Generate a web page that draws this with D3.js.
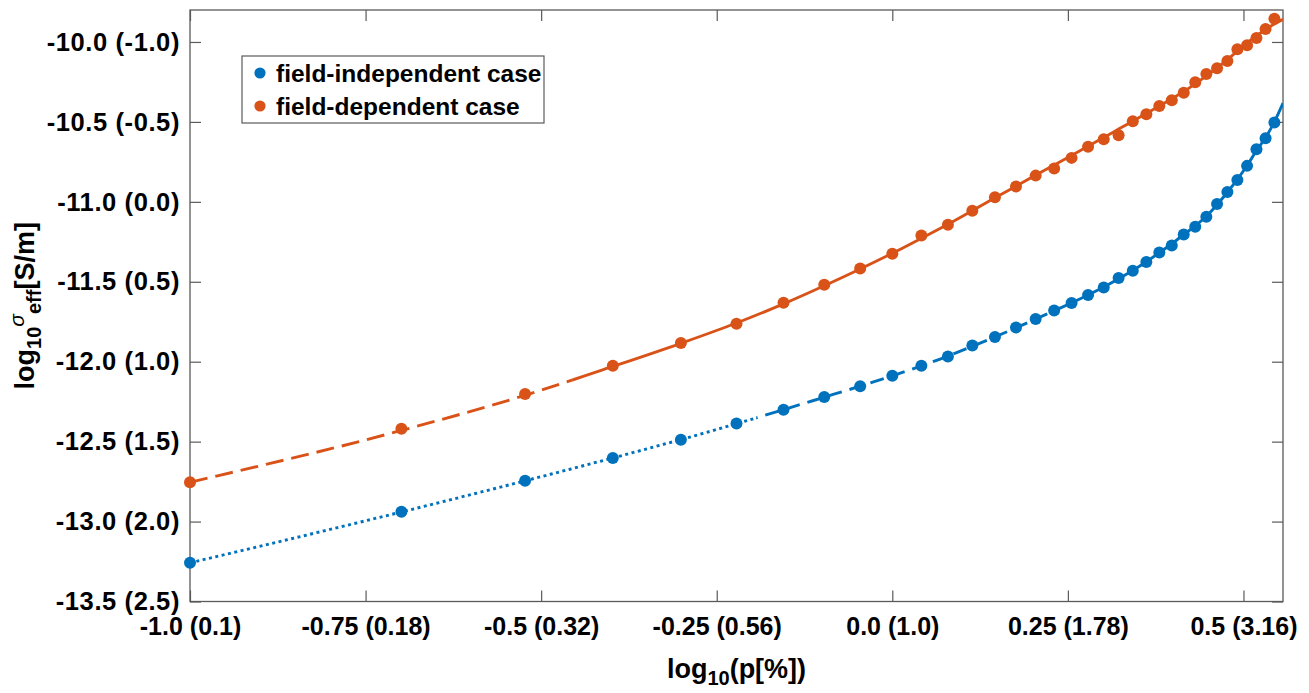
<!DOCTYPE html>
<html>
<head>
<meta charset="utf-8">
<script src="https://cdn.jsdelivr.net/npm/d3@7"></script>
<style>
  html, body { margin: 0; padding: 0; background: #fff; }
  svg { display: block; font-family: "Liberation Sans", Arial, sans-serif; font-weight: bold; }
</style>
</head>
<body>
<svg id="chart" width="1309" height="693"></svg>
<script>
// Pore fraction p [%] at which the conductivity was evaluated
const pPoints = [0.1, 0.2, 0.3, 0.4, 0.5, 0.6, 0.7, 0.8, 0.9, 1.0,
                 1.1, 1.2, 1.3, 1.4, 1.5, 1.6, 1.7, 1.8, 1.9, 2.0,
                 2.1, 2.2, 2.3, 2.4, 2.5, 2.6, 2.7, 2.8, 2.9, 3.0,
                 3.1, 3.2, 3.3, 3.4, 3.5];

// log10 of effective conductivity [S/m], field-independent case
const sigmaIndependent = [-13.258, -12.939, -12.744, -12.602, -12.488, -12.386, -12.300, -12.221, -12.154, -12.088,
                          -12.025, -11.967, -11.898, -11.846, -11.786, -11.733, -11.679, -11.633, -11.583, -11.536,
                          -11.477, -11.431, -11.377, -11.317, -11.273, -11.204, -11.156, -11.094, -11.014, -10.939,
                          -10.863, -10.775, -10.671, -10.602, -10.504];

// log10 of effective conductivity [S/m], field-dependent case
const sigmaDependent = [-12.754, -12.419, -12.202, -12.025, -11.883, -11.763, -11.631, -11.519, -11.417, -11.325,
                        -11.211, -11.144, -11.056, -10.971, -10.904, -10.836, -10.792, -10.725, -10.656, -10.608,
                        -10.583, -10.496, -10.452, -10.400, -10.364, -10.317, -10.252, -10.200, -10.164, -10.119,
                        -10.046, -10.021, -9.975, -9.919, -9.854];

// Fitted curves, sampled up to the right edge of the axes
const pFit = [0.1, 0.2, 0.3, 0.4, 0.5, 0.6, 0.7, 0.8, 0.9, 1.0,
              1.1, 1.2, 1.3, 1.4, 1.5, 1.6, 1.7, 1.8, 1.9, 2.0,
              2.1, 2.2, 2.3, 2.4, 2.5, 2.6, 2.7, 2.8, 2.9, 3.0,
              3.1, 3.2, 3.3, 3.4, 3.5, 3.6];
const fitIndependent = [-13.258, -12.940, -12.745, -12.602, -12.487, -12.388, -12.300, -12.222, -12.153, -12.088,
                        -12.026, -11.965, -11.903, -11.845, -11.788, -11.733, -11.681, -11.632, -11.583, -11.533,
                        -11.481, -11.429, -11.375, -11.318, -11.262, -11.205, -11.150, -11.090, -11.018, -10.940,
                        -10.860, -10.773, -10.680, -10.598, -10.500, -10.383];
const fitDependent = [-12.754, -12.430, -12.210, -12.030, -11.885, -11.758, -11.638, -11.525, -11.420, -11.322,
                      -11.228, -11.140, -11.055, -10.975, -10.902, -10.833, -10.770, -10.710, -10.652, -10.598,
                      -10.545, -10.495, -10.447, -10.400, -10.355, -10.310, -10.262, -10.212, -10.162, -10.110,
                      -10.057, -10.005, -9.962, -9.922, -9.888, -9.858];

// Regime boundaries (in p [%]) where the line style of each fit changes
const dependentBreaks = [0.35];          // dashed | solid
const independentBreaks = [0.64, 1.8];   // dotted | dashed | solid

// Axis ticks and their labels
const xTicks = [-1.0, -0.75, -0.5, -0.25, 0.0, 0.25, 0.5];
const xTickLabels = ["-1.0 (0.1)", "-0.75 (0.18)", "-0.5 (0.32)", "-0.25 (0.56)", "0.0 (1.0)", "0.25 (1.78)", "0.5 (3.16)"];
const yTicks = [-13.5, -13.0, -12.5, -12.0, -11.5, -11.0, -10.5, -10.0];
const yTickLabels = ["-13.5 (2.5)", "-13.0 (2.0)", "-12.5 (1.5)", "-12.0 (1.0)", "-11.5 (0.5)", "-11.0 (0.0)", "-10.5 (-0.5)", "-10.0 (-1.0)"];

const seriesNames = ["field-independent case", "field-dependent case"];
const colors = ["#0072BD", "#D95319"];

// ---- layout ----
const svg = d3.select("#chart");
const plot = { left: 190, right: 1283, top: 10, bottom: 601.5 };

const x = d3.scaleLinear().domain([-1, Math.log10(3.6)]).range([plot.left, plot.right]);
const y = d3.scaleLinear().domain([-13.5, -9.8]).range([plot.bottom, plot.top]);

const axisColor = "#5a5a5a";
const textColor = "#000";
const tickLen = 11;

// clip regions: whole plot, plus one per line-style regime
const defs = svg.append("defs");
defs.append("clipPath").attr("id", "plot-clip")
  .append("rect")
  .attr("x", plot.left).attr("y", plot.top)
  .attr("width", plot.right - plot.left).attr("height", plot.bottom - plot.top);

function regimeClips(prefix, breaks) {
  const edges = [x.domain()[0]].concat(breaks.map(b => Math.log10(b)), [x.domain()[1]]);
  const ids = [];
  for (let i = 0; i < edges.length - 1; i++) {
    const id = prefix + i;
    defs.append("clipPath").attr("id", id)
      .append("rect")
      .attr("x", x(edges[i])).attr("y", plot.top)
      .attr("width", x(edges[i + 1]) - x(edges[i]))
      .attr("height", plot.bottom - plot.top);
    ids.push(id);
  }
  return ids;
}

// ---- axes ----
const xAxis = d3.axisBottom(x).tickValues(xTicks)
  .tickFormat((d, i) => xTickLabels[i])
  .tickSizeInner(-tickLen).tickSizeOuter(0).tickPadding(16);
const yAxis = d3.axisLeft(y).tickValues(yTicks)
  .tickFormat((d, i) => yTickLabels[i])
  .tickSizeInner(-tickLen).tickSizeOuter(0).tickPadding(10);
const xAxisTop = d3.axisTop(x).tickValues(xTicks).tickFormat("")
  .tickSizeInner(-tickLen).tickSizeOuter(0);
const yAxisRight = d3.axisRight(y).tickValues(yTicks).tickFormat("")
  .tickSizeInner(-tickLen).tickSizeOuter(0);

function styleAxis(g, size) {
  g.select(".domain").remove();
  g.selectAll(".tick line").attr("stroke", axisColor).attr("stroke-width", 1.2);
  g.selectAll(".tick text")
    .attr("fill", textColor)
    .style("font-family", "'Liberation Sans', Arial, sans-serif")
    .style("font-weight", "bold")
    .style("font-size", size + "px");
}

svg.append("g").attr("transform", `translate(0,${plot.bottom})`).call(xAxis).call(styleAxis, 25);
svg.append("g").attr("transform", `translate(${plot.left},0)`).call(yAxis).call(styleAxis, 25.5)
  .selectAll(".tick text").style("letter-spacing", "0.6px");
svg.append("g").attr("transform", `translate(0,${plot.top})`).call(xAxisTop).call(styleAxis, 25);
svg.append("g").attr("transform", `translate(${plot.right},0)`).call(yAxisRight).call(styleAxis, 25);

// axes box
svg.append("rect")
  .attr("x", plot.left).attr("y", plot.top)
  .attr("width", plot.right - plot.left).attr("height", plot.bottom - plot.top)
  .attr("fill", "none").attr("stroke", axisColor).attr("stroke-width", 1.3);

// ---- fitted lines ----
const line = d3.line()
  .x(d => x(Math.log10(d[0])))
  .y(d => y(d[1]))
  .curve(d3.curveMonotoneX);

const linesG = svg.append("g").attr("clip-path", "url(#plot-clip)");

function drawFit(values, color, clipIds, dashes) {
  const pts = pFit.map((p, i) => [p, values[i]]);
  clipIds.forEach((id, i) => {
    linesG.append("g").attr("clip-path", `url(#${id})`)
      .append("path")
      .attr("d", line(pts))
      .attr("fill", "none")
      .attr("stroke", color)
      .attr("stroke-width", 2.9)
      .attr("stroke-dasharray", dashes[i])
      .attr("stroke-linecap", "butt");
  });
}

drawFit(fitDependent, colors[1], regimeClips("dep-", dependentBreaks), ["18,8", null]);
drawFit(fitIndependent, colors[0], regimeClips("ind-", independentBreaks), ["3,3.5", "14,8", null]);

// ---- data markers ----
function drawPoints(values, color) {
  svg.append("g").selectAll("circle")
    .data(pPoints.map((p, i) => [p, values[i]]))
    .join("circle")
    .attr("cx", d => x(Math.log10(d[0])))
    .attr("cy", d => y(d[1]))
    .attr("r", 6)
    .attr("fill", color);
}
drawPoints(sigmaIndependent, colors[0]);
drawPoints(sigmaDependent, colors[1]);

// ---- legend ----
const legend = svg.append("g");
legend.append("rect")
  .attr("x", 242).attr("y", 56).attr("width", 302).attr("height", 67)
  .attr("fill", "#fff").attr("stroke", axisColor).attr("stroke-width", 1.2);
seriesNames.forEach((name, i) => {
  const cy = 73 + i * 33;
  legend.append("circle").attr("cx", 260).attr("cy", cy).attr("r", 5.6).attr("fill", colors[i]);
  legend.append("text").attr("x", 276).attr("y", cy).attr("dy", "0.36em")
    .attr("fill", textColor).style("font-size", "24.5px").text(name);
});

// ---- axis titles ----
const xTitle = svg.append("text")
  .attr("x", (plot.left + plot.right) / 2).attr("y", 678)
  .attr("text-anchor", "middle").attr("fill", textColor)
  .style("font-size", "27px");
xTitle.append("tspan").text("log");
xTitle.append("tspan").attr("dy", 7).style("font-size", "20px").text("10");
xTitle.append("tspan").attr("dy", -7).text("(p[%])");

const yTitle = svg.append("text")
  .attr("transform", `translate(34,${(plot.top + plot.bottom) / 2}) rotate(-90)`)
  .attr("text-anchor", "middle").attr("fill", textColor)
  .style("font-size", "27px");
yTitle.append("tspan").text("log");
yTitle.append("tspan").attr("dy", 7).style("font-size", "20px").text("10");
yTitle.append("tspan").attr("dy", -17).style("font-size", "21px").style("font-style", "italic").style("font-weight", "normal").text("σ");
yTitle.append("tspan").attr("dy", 17).style("font-size", "20px").text("eff");
yTitle.append("tspan").attr("dy", -7).text("[S/m]");
</script>
</body>
</html>
